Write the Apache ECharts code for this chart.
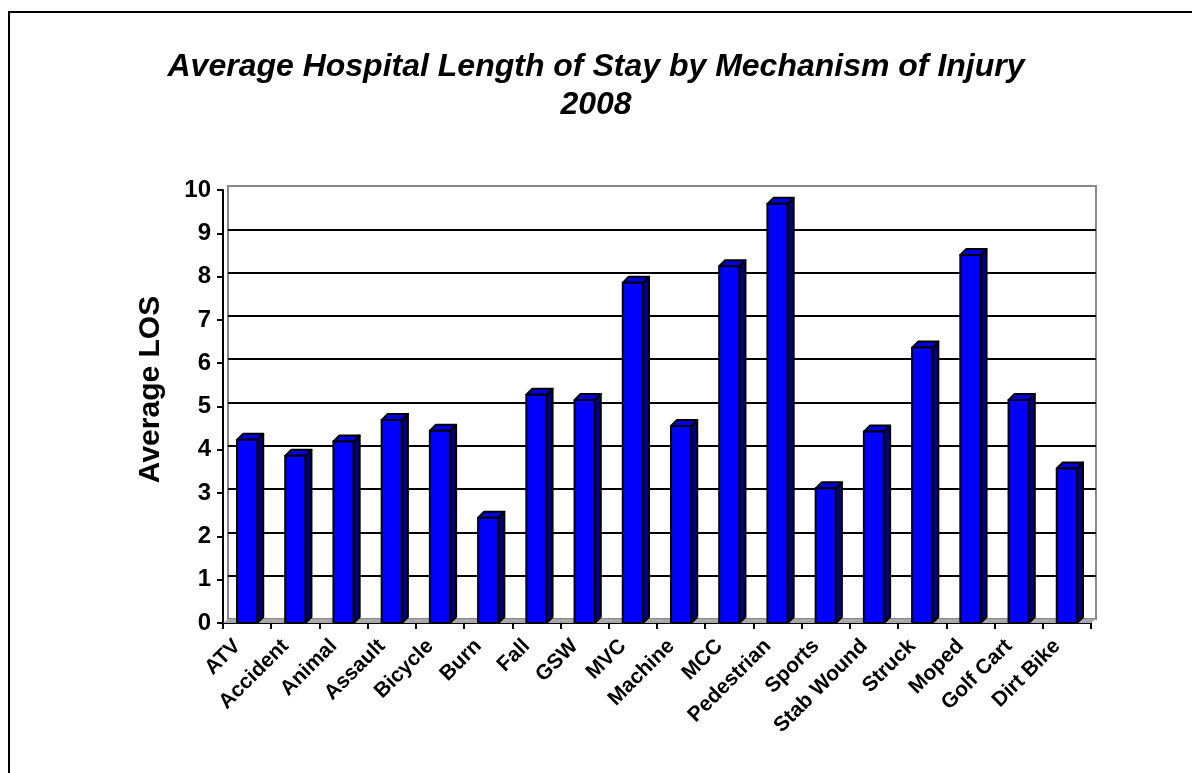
<!DOCTYPE html>
<html>
<head>
<meta charset="utf-8">
<script src="https://cdn.jsdelivr.net/npm/echarts@6/dist/echarts.min.js"></script>
<style>
  html, body { margin: 0; padding: 0; background: #fff; }
  #wrap { position: relative; width: 1192px; height: 773px; overflow: hidden; }
  #chart { width: 1192px; height: 773px; }
  #frame { position: absolute; left: 8px; top: 11px; width: 1300px; height: 900px;
           border-left: 2px solid #000; border-top: 2px solid #000; pointer-events: none; }
</style>
</head>
<body>
<div id="wrap">
  <div id="chart"></div>
  <div id="frame"></div>
</div>
<script>
var categories = ['ATV', 'Accident', 'Animal', 'Assault', 'Bicycle', 'Burn', 'Fall', 'GSW', 'MVC',
    'Machine', 'MCC', 'Pedestrian', 'Sports', 'Stab Wound', 'Struck', 'Moped', 'Golf Cart', 'Dirt Bike'];
var losValues = [4.23, 3.86, 4.19, 4.69, 4.44, 2.43, 5.27, 5.15, 7.86,
    4.55, 8.24, 9.68, 3.11, 4.42, 6.36, 8.5, 5.15, 3.57];
var yTicks = [0, 10, 1]; // min, max, interval

var myChart = echarts.init(document.getElementById('chart'));

// 3d look: depth of bars and of the back wall
var barDx = 6, barDy = 6;
var wallDx = 5, wallDy = 4;

function renderBar(params, api) {
    var i = api.value(0);
    var v = api.value(1);
    var top = api.coord([i, v]);
    var base = api.coord([i, 0]);
    var cw = api.size([1, 0])[0];
    var w = cw * 0.42;
    var x0 = top[0] - w / 2, x1 = top[0] + w / 2;
    var yt = top[1], yb = base[1];
    var edge = { stroke: '#000', lineWidth: 2, lineJoin: 'round' };
    var fl = base[0] - cw / 2, fr = base[0] + cw / 2;
    return {
        type: 'group',
        children: [{
            // floor piece
            type: 'polygon',
            shape: { points: [[fl, yb], [fr, yb], [fr + wallDx, yb - wallDy], [fl + wallDx, yb - wallDy]] },
            style: { fill: '#a8a8a8' }
        }, {
            type: 'polygon',
            shape: { points: [[x1, yt], [x1 + barDx, yt - barDy], [x1 + barDx, yb - barDy], [x1, yb]] },
            style: Object.assign({ fill: '#000080' }, edge)
        }, {
            type: 'polygon',
            shape: { points: [[x0, yt], [x0 + barDx, yt - barDy], [x1 + barDx, yt - barDy], [x1, yt]] },
            style: Object.assign({ fill: '#0000e0' }, edge)
        }, {
            type: 'rect',
            shape: { x: x0, y: yt, width: w, height: yb - yt },
            style: Object.assign({ fill: '#0000ff' }, edge)
        }]
    };
}

var option = {
    backgroundColor: '#fff',
    animation: false,
    title: {
        text: 'Average Hospital Length of Stay by Mechanism of Injury\n2008',
        left: 'center',
        top: 43,
        textStyle: {
            fontFamily: 'Liberation Sans, Arial, sans-serif',
            fontSize: 32,
            fontWeight: 'bold',
            fontStyle: 'italic',
            color: '#000',
            lineHeight: 38
        }
    },
    grid: [{
        left: 223, right: 101, top: 190, bottom: 150
    }, {
        // back wall
        left: 223 + wallDx, right: 101 - wallDx, top: 190 - wallDy, bottom: 150 + wallDy,
        show: true,
        backgroundColor: '#fff',
        borderColor: '#888',
        borderWidth: 2
    }],
    xAxis: [{
        type: 'category',
        gridIndex: 0,
        data: categories,
        boundaryGap: true,
        axisLine: { lineStyle: { color: '#000', width: 2 } },
        axisTick: { show: true, length: 6, lineStyle: { color: '#000', width: 2 } },
        axisLabel: {
            interval: 0,
            rotate: 45,
            margin: 10,
            padding: [0, 14, 0, 0],
            color: '#000',
            fontFamily: 'Liberation Sans, Arial, sans-serif',
            fontSize: 21,
            fontWeight: 'bold'
        },
        splitLine: { show: false }
    }, {
        type: 'category',
        gridIndex: 1,
        data: categories,
        show: false
    }],
    yAxis: [{
        type: 'value',
        gridIndex: 0,
        min: yTicks[0],
        max: yTicks[1],
        interval: yTicks[2],
        name: 'Average LOS',
        nameLocation: 'middle',
        nameGap: 57,
        nameTextStyle: {
            fontFamily: 'Liberation Sans, Arial, sans-serif',
            fontSize: 30,
            fontWeight: 'bold',
            color: '#000',
            padding: [0, 0, 0, 34]
        },
        axisLine: { show: true, lineStyle: { color: '#000', width: 2 } },
        axisTick: { show: true, length: 6, lineStyle: { color: '#000', width: 2 } },
        axisLabel: {
            margin: 12,
            color: '#000',
            fontFamily: 'Liberation Sans, Arial, sans-serif',
            fontSize: 24,
            fontWeight: 'bold'
        },
        splitLine: { show: false }
    }, {
        type: 'value',
        gridIndex: 1,
        min: yTicks[0],
        max: yTicks[1],
        interval: yTicks[2],
        axisLine: { show: false },
        axisTick: { show: false },
        axisLabel: { show: false },
        splitLine: {
            show: true,
            showMinLine: false,
            showMaxLine: false,
            lineStyle: { color: '#000', width: 2 }
        }
    }],
    series: [{
        type: 'custom',
        xAxisIndex: 0,
        yAxisIndex: 0,
        renderItem: renderBar,
        data: losValues.map(function (v, i) { return [i, v]; }),
        z: 5
    }]
};

myChart.setOption(option);
</script>
</body>
</html>
